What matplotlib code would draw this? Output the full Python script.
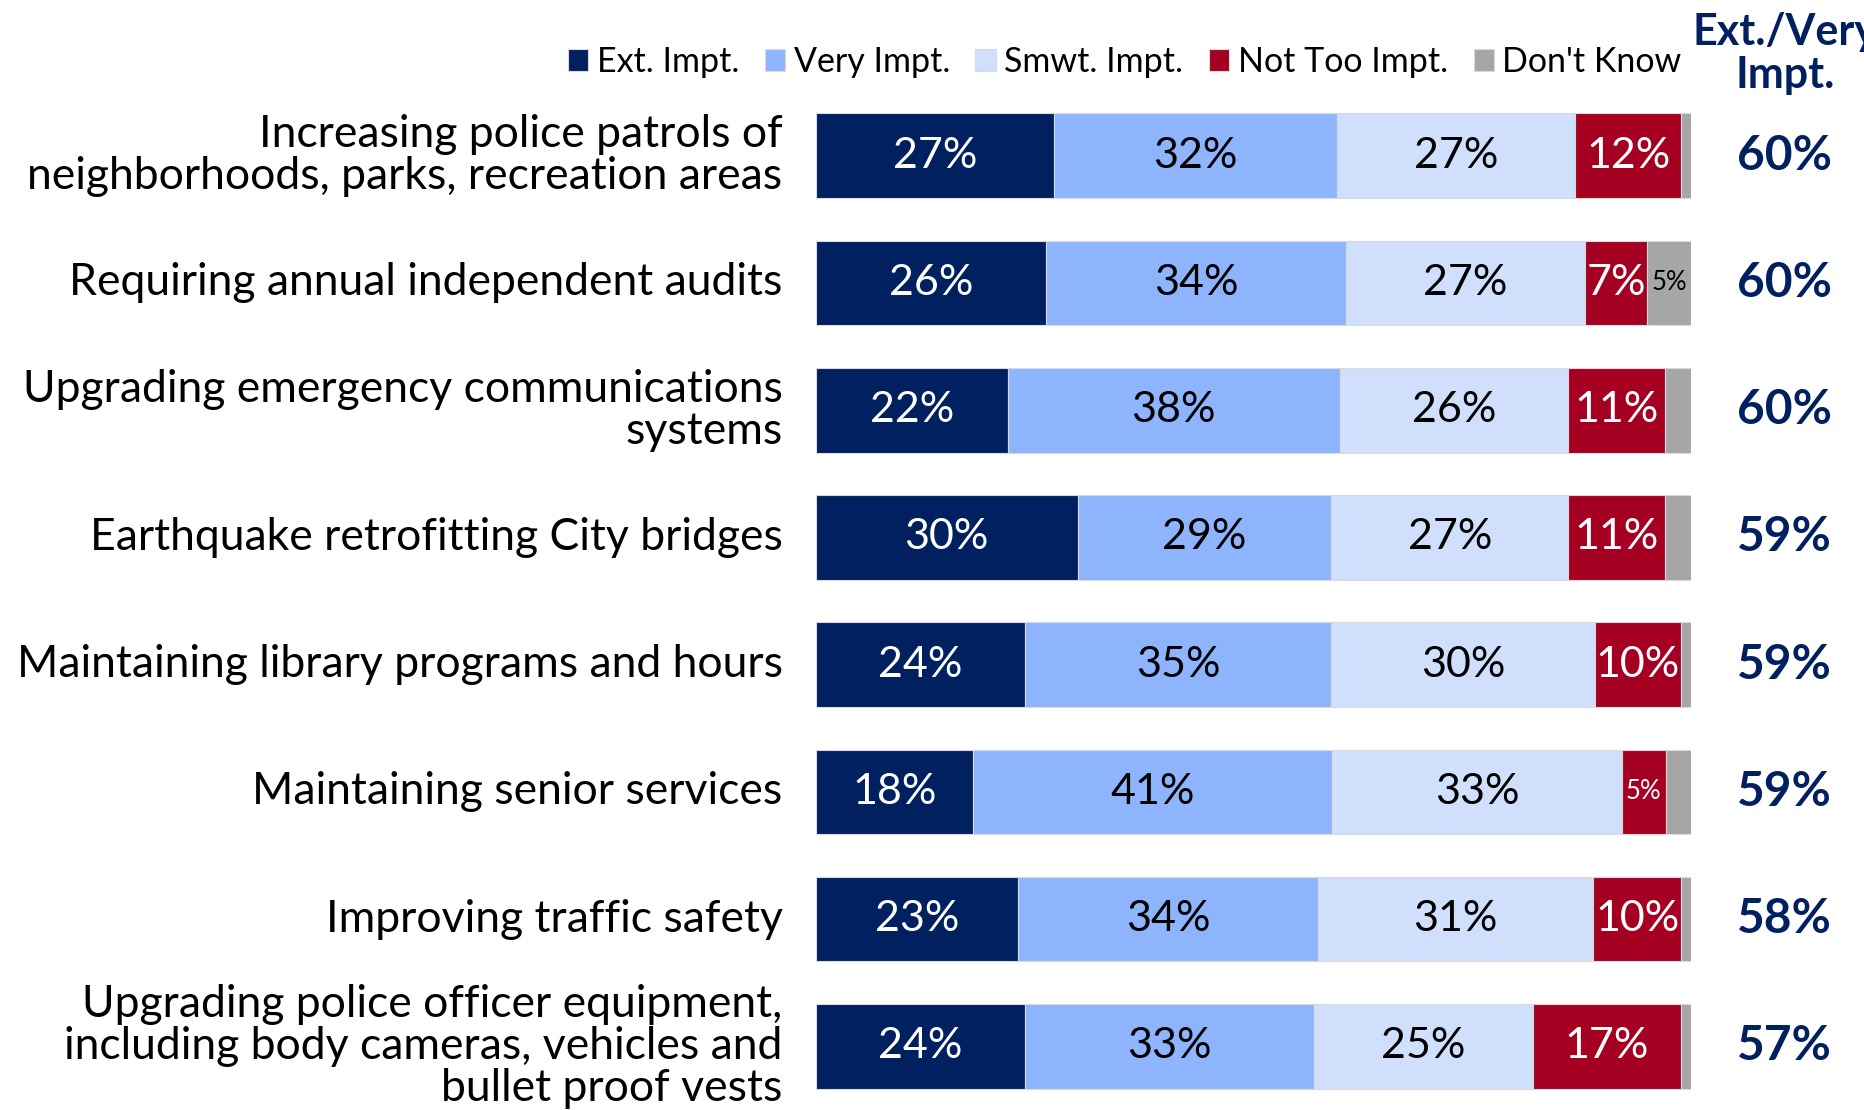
import numpy as np
import matplotlib.pyplot as plt

# survey items (top to bottom)
items = ["Increasing police patrols of\nneighborhoods, parks, recreation areas",
         "Requiring annual independent audits",
         "Upgrading emergency communications\nsystems",
         "Earthquake retrofitting City bridges",
         "Maintaining library programs and hours",
         "Maintaining senior services",
         "Improving traffic safety",
         "Upgrading police officer equipment,\nincluding body cameras, vehicles and\nbullet proof vests"]

series_names = ["Ext. Impt.", "Very Impt.", "Smwt. Impt.", "Not Too Impt.", "Don't Know"]
ext_impt = [27.2, 26.3, 21.9, 29.9, 23.9, 18.0, 23.1, 23.9]
very_impt = [32.4, 34.3, 38.0, 29.0, 35.0, 41.0, 34.3, 33.0]
smwt_impt = [27.2, 27.3, 26.1, 27.1, 30.1, 33.1, 31.4, 25.0]
not_too = [12.1, 7.1, 11.0, 11.0, 9.9, 5.0, 10.1, 17.0]
dont_know = [1.1, 5.0, 3.0, 3.0, 1.1, 3.0, 1.1, 1.1]
ext_very = [60, 60, 60, 59, 59, 59, 58, 57]

colors = ['#002060', '#8EB4FE', '#D0E0FC', '#A50021', '#A6A6A6']
txt_colors = ['white', 'black', 'black', 'white', 'black']
navy = '#002060'

plt.rcParams['font.family'] = ['Lato', 'DejaVu Sans']

fig = plt.figure(figsize=(18.65, 11.1), dpi=100)
ax = fig.add_axes([0.4375, 0.0, 0.4692, 0.917])

y = np.arange(len(items))
data = [ext_impt, very_impt, smwt_impt, not_too, dont_know]
left = np.zeros(len(items))
handles = []
for k, vals in enumerate(data):
    vals = np.array(vals)
    b = ax.barh(y, vals, left=left, height=0.665, color=colors[k],
                edgecolor='#d9d9d9', linewidth=0.8, label=series_names[k])
    handles.append(b)
    for i, v in enumerate(vals):
        lab = int(round(v))
        if lab < 5:
            continue
        small = lab <= 5
        ax.text(left[i] + v / 2, y[i], f"{lab}%", ha='center', va='center',
                color=txt_colors[k], fontsize=18.5 if small else 31)
    left += vals

ax.set_xlim(0, 100)
ax.set_ylim(len(items) - 0.5, -0.5)
ax.axis('off')

# category labels
for i, name in enumerate(items):
    ax.annotate(name, xy=(0, y[i]), xytext=(-24, 0), textcoords='offset points',
                ha='right', va='center', fontsize=32, linespacing=1.03,
                annotation_clip=False)

# Ext./Very Impt. column
for i, v in enumerate(ext_very):
    ax.annotate(f"{v}%", xy=(100, y[i]), xytext=(67, 0), textcoords='offset points',
                ha='center', va='center', fontsize=34.5, fontweight='bold',
                color=navy, annotation_clip=False)

# column header (runs off the right edge, as in the original slide)
fig.text(0.957, 0.952, "Ext./Very\nImpt.", ha='center', va='center', fontsize=31,
         fontweight='bold', color=navy, linespacing=1.1)

fig.legend(handles=handles, loc='center right', bbox_to_anchor=(0.909, 0.944),
           ncol=5, frameon=False, fontsize=24.5, handlelength=0.6, handleheight=0.6,
           handletextpad=0.25, columnspacing=0.75, borderaxespad=0)

plt.savefig("out.png", dpi=100)
